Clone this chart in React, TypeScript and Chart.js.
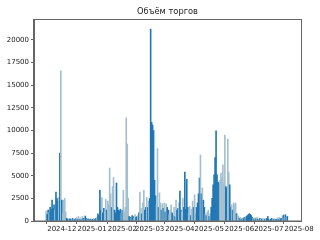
import React, { useEffect, useRef } from 'react';
import { Chart, registerables } from 'chart.js';

Chart.register(...registerables);

const chartTitle = 'Объём торгов';
const startDate = '2024-11-15';

const volumes: number[] = [
  // Nov 15 - Nov 30
  1100, 700, 1200, 900, 1500, 1300, 2300, 1400, 1800, 1200, 3200, 2500, 2200, 2600, 7500, 16600,
  // Dec 1 - Dec 6
  2300, 800, 2300, 2500, 1000, 300,
  // Dec 7 - Jan 7
  200, 150, 250, 200, 150, 300, 200, 150, 250, 400, 200, 500, 200, 350, 150, 500,
  300, 200, 550, 300, 200, 250, 150, 200, 100, 150, 200, 250, 150, 300, 400, 800,
  // Jan 8 - Feb 8
  600, 3400, 1200, 2600, 900, 1400, 1000, 2400, 1200, 2200, 1800, 5850, 3000, 1500, 3800, 4800,
  1200, 900, 4200, 1500, 1200, 1100, 1300, 800, 1200, 3400, 1000, 1500, 11400, 8500, 2500, 500,
  // Feb 9 - Mar 1
  400, 300, 600, 500, 300, 700, 400, 500, 600, 900, 3200, 1400, 800, 2000, 3400, 1200,
  1500, 2600, 1500, 2200, 2500,
  // Mar 2 - Mar 31
  21200, 10900, 10600, 10000, 4500, 2800, 1800, 8000, 1500, 3100, 2000, 1200, 1900, 1400, 2000,
  1000, 1900, 1500, 1200, 700, 1200, 1800, 900, 600, 1500, 500, 2300, 1200, 1400, 2000,
  // Apr 1 - May 3
  3300, 1200, 1000, 2500, 1500, 5400, 1300, 4600, 1500, 800, 1600, 600, 1300, 2200, 1500, 2900,
  800, 1500, 2000, 3000, 4750, 7300, 3000, 3650, 2300, 1500, 800, 600, 1000, 1200, 500, 800, 1500,
  // May 4 - May 30
  2500, 4000, 5100, 7000, 9950, 5100, 4300, 4200, 4500, 5300, 4800, 6200, 4200, 9500,
  3800, 3650, 9050, 5400, 4000, 1500, 1800, 1200, 2000, 1800, 2000, 800, 600,
  // May 31 - Jul 20
  500, 300, 400, 200, 300, 250, 400, 300, 500, 600, 700, 800, 750, 600, 400, 300, 200,
  350, 250, 400, 200, 150, 300, 250, 200, 300, 150, 200, 250, 300, 500, 200, 150, 200,
  300, 150, 200, 250, 150, 200, 350, 200, 400, 250, 300, 500, 650, 400, 700, 400, 500,
];

// 1 = dark (rising), 0 = light (falling)
const rising: number[] = [
  0, 1, 1, 0, 1, 1, 1, 1, 1, 0, 1, 1, 1, 0, 1, 0,
  1, 0, 0, 0, 0, 1,
  1, 0, 1, 1, 0, 1, 0, 1, 1, 0, 1, 0, 1, 0, 1, 0,
  1, 0, 1, 1, 0, 1, 0, 1, 0, 1, 1, 0, 1, 1, 0, 1,
  1, 1, 1, 0, 1, 1, 0, 0, 1, 0, 0, 0, 0, 1, 0, 0,
  1, 1, 1, 1, 1, 1, 1, 0, 1, 0, 0, 0, 0, 0, 0, 1,
  1, 0, 1, 1, 0, 0, 1, 1, 0, 1, 0, 0, 1, 0, 0, 1,
  1, 0, 1, 0, 1,
  1, 1, 1, 1, 1, 1, 0, 0, 1, 0, 0, 1, 0, 1, 0,
  1, 0, 1, 1, 0, 0, 0, 1, 1, 0, 1, 0, 1, 1, 0,
  1, 1, 0, 0, 1, 1, 1, 1, 1, 0, 0, 1, 0, 0, 1, 0,
  0, 1, 1, 1, 1, 0, 1, 0, 1, 1, 0, 1, 0, 0, 1, 0, 1,
  1, 1, 1, 1, 1, 1, 1, 1, 0, 0, 0, 0, 0, 0,
  1, 1, 0, 0, 1, 1, 0, 1, 0, 0, 0, 1, 0,
  0, 1, 0, 1, 0, 1, 1, 0, 1, 1, 1, 1, 1, 1, 1, 0, 1,
  0, 1, 0, 1, 0, 1, 0, 1, 0, 0, 1, 0, 1, 1, 1, 0, 1, 1,
  0, 1, 0, 1, 1, 0, 1, 0, 1, 1, 0, 1, 0, 1, 0, 1, 0,
];

const monthLabels = ['2024-12', '2025-01', '2025-02', '2025-03', '2025-04', '2025-05', '2025-06', '2025-07', '2025-08'];
const yTicks = [0, 2500, 5000, 7500, 10000, 12500, 15000, 17500, 20000];

const DAY_MS = 86400000;
const startMs = Date.parse(startDate);
const monthOffsets = monthLabels.map((m) => (Date.parse(m + '-01') - startMs) / DAY_MS);

const DARK = '#1f77b4';
const LIGHT = '#a3bfcf';
const FONT = "'DejaVu Sans', sans-serif";

export default function App() {
  const ref = useRef<HTMLCanvasElement | null>(null);

  useEffect(() => {
    if (!ref.current) return;
    const points = volumes.map((v, i) => ({ x: i, y: v }));
    const colors = volumes.map((_, i) => (rising[i] ? DARK : LIGHT));

    const framePlugin = {
      id: 'frameAndTitle',
      afterDraw(chart: any) {
        const { ctx, chartArea } = chart;
        ctx.save();
        ctx.strokeStyle = '#666';
        ctx.lineWidth = 1;
        ctx.strokeRect(
          Math.round(chartArea.left) - 0.5,
          Math.round(chartArea.top) + 0.5,
          Math.round(chartArea.right - chartArea.left) + 1,
          Math.round(chartArea.bottom - chartArea.top) - 0.5
        );
        ctx.fillStyle = '#222';
        ctx.font = `8.3px ${FONT}`;
        ctx.textAlign = 'center';
        ctx.textBaseline = 'middle';
        ctx.fillText(chartTitle, (chartArea.left + chartArea.right) / 2, 11.5);
        ctx.restore();
      },
    };

    const chart = new Chart(ref.current, {
      type: 'bar',
      data: {
        datasets: [
          {
            data: points as any,
            backgroundColor: colors,
            borderWidth: 0,
            barPercentage: 1,
            categoryPercentage: 1,
          },
        ],
      },
      options: {
        animation: false,
        responsive: false,
        maintainAspectRatio: false,
        layout: { padding: { left: 0, right: 19, top: 19, bottom: 0 } },
        plugins: {
          legend: { display: false },
          tooltip: { enabled: false },
          title: { display: false },
        },
        scales: {
          x: {
            type: 'linear',
            min: -12.5,
            max: 261,
            offset: false,
            grid: { drawOnChartArea: false, drawTicks: true, tickLength: 3, color: '#666' },
            border: { display: true, color: '#666' },
            afterBuildTicks: (scale: any) => {
              scale.ticks = monthOffsets.map((v) => ({ value: v }));
            },
            afterFit: (scale: any) => {
              scale.height = 19;
            },
            ticks: {
              autoSkip: false,
              maxRotation: 0,
              minRotation: 0,
              padding: 1,
              color: '#222',
              font: { family: FONT, size: 7 },
              callback: (value: any) => {
                const idx = monthOffsets.indexOf(value);
                return idx >= 0 ? monthLabels[idx] : '';
              },
            },
          },
          y: {
            type: 'linear',
            min: 0,
            max: 22320,
            grid: { drawOnChartArea: false, drawTicks: true, tickLength: 3, color: '#666' },
            border: { display: true, color: '#666' },
            afterBuildTicks: (scale: any) => {
              scale.ticks = yTicks.map((v) => ({ value: v }));
            },
            afterFit: (scale: any) => {
              scale.width = 34;
            },
            ticks: {
              padding: 2,
              color: '#222',
              font: { family: FONT, size: 7 },
              callback: (value: any) => String(value),
            },
          },
        },
      },
      plugins: [framePlugin],
    });

    return () => chart.destroy();
  }, []);

  return (
    <div style={{ position: 'absolute', left: 0, top: 0, width: 320, height: 240, background: '#fff' }}>
      <canvas ref={ref} width={320} height={240} style={{ display: 'block', width: 320, height: 240 }} />
    </div>
  );
}
